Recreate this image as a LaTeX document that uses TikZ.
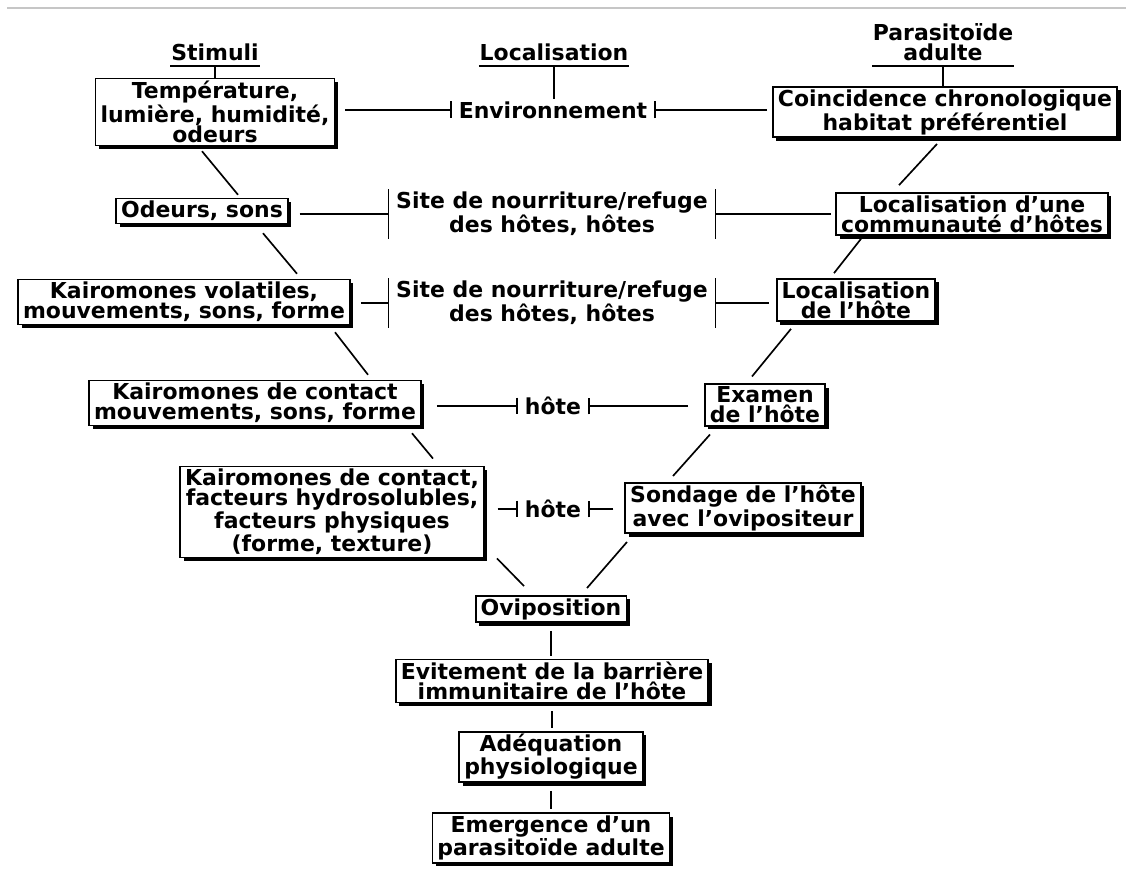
\documentclass[tikz,border=0pt]{standalone}
\usepackage{fontspec}
\setmainfont{DejaVu Sans}
\usetikzlibrary{arrows.meta,calc,shadows}

\begin{document}
\begin{tikzpicture}
  [x=0.02cm,y=-0.02cm,line width=0.95pt,
   every node/.style={font=\bfseries\fontsize{12.5}{11.4}\selectfont,align=center},
   box/.style={draw,fill=white,inner xsep=0.1cm,inner ysep=0.05cm,
     drop shadow={fill=black,opacity=1,shadow xshift=0.07cm,shadow yshift=-0.07cm}},
   hdr/.style={inner xsep=0pt,inner ysep=0.08cm,anchor=south},
   mid/.style={inner xsep=0.12cm,inner ysep=1pt},
   sbar/.style={-{Bar[width=0.34cm]}},
   lbar/.style={-{Bar[width=1cm]}}]

  \useasboundingbox (0,0) rectangle (1126,871);
  \draw[gray!45,line width=1.2pt] (7,8) -- (1126,8);

  % headers
  \node[hdr] (stim) at (215,66) {Stimuli};
  \node[hdr] (loc) at (554,66) {Localisation};
  \node[hdr] (para) at (943,66) {Parasitoïde\\adulte};
  \draw (stim.south west) -- (stim.south east);
  \draw (loc.south west) -- (loc.south east);
  \draw (para.south west) -- (para.south east);

  % stimuli
  \node[box] (t1) at (215,112) {Température,\\lumière, humidité,\\odeurs};
  \node[box] (t2) at (202,211) {Odeurs, sons};
  \node[box] (t3) at (184,302) {Kairomones volatiles,\\mouvements, sons, forme};
  \node[box] (t4) at (255,403) {Kairomones de contact\\mouvements, sons, forme};
  \node[box] (t5) at (332,512) {Kairomones de contact,\\facteurs hydrosolubles,\\facteurs physiques\\(forme, texture)};

  % parasitoide
  \node[box] (c1) at (945,112) {Coincidence chronologique\\habitat préférentiel};
  \node[box] (c2) at (972,214) {Localisation d'une\\communauté d'hôtes};
  \node[box] (c3) at (856,300) {Localisation\\de l'hôte};
  \node[box] (c4) at (765,405) {Examen\\de l'hôte};
  \node[box] (c5) at (743,508) {Sondage de l'hôte\\avec l'ovipositeur};

  % localisation
  \node[mid] (env) at (553,110) {Environnement};
  \node[mid] (site1) at (552,214) {Site de nourriture/refuge\\des hôtes, hôtes};
  \node[mid] (site2) at (552,303) {Site de nourriture/refuge\\des hôtes, hôtes};
  \node[mid] (hote1) at (553,406) {hôte};
  \node[mid] (hote2) at (553,509) {hôte};

  % suite
  \node[box] (ovi) at (551,609) {Oviposition};
  \node[box] (evi) at (552,681) {Evitement de la barrière\\immunitaire de l'hôte};
  \node[box] (ade) at (551,757) {Adéquation\\physiologique};
  \node[box] (eme) at (551,838) {Emergence d'un\\parasitoïde adulte};

  \draw (stim.south) -- (stim.south |- t1.north);
  \draw (para.south) -- (para.south |- c1.north);
  \draw (loc.south) -- (loc.south |- env.north);

  \draw[sbar,shorten <=0.2cm] (env.west -| t1.east) -- (env.west);
  \draw[sbar,shorten <=0.1cm] (env.east -| c1.west) -- (env.east);
  \draw[lbar,shorten <=0.22cm] (site1.west -| t2.east) -- (site1.west);
  \draw[lbar,shorten <=0.08cm] (site1.east -| c2.west) -- (site1.east);
  \draw[lbar,shorten <=0.2cm] (site2.west -| t3.east) -- (site2.west);
  \draw[lbar,shorten <=0.14cm] (site2.east -| c3.west) -- (site2.east);
  \draw[sbar,shorten <=0.3cm] (hote1.west -| t4.east) -- (hote1.west);
  \draw[sbar,shorten <=0.32cm] (hote1.east -| c4.west) -- (hote1.east);
  \draw[sbar,shorten <=0.26cm] (hote2.west -| t5.east) -- (hote2.west);
  \draw[sbar,shorten <=0.22cm] (hote2.east -| c5.west) -- (hote2.east);

  \foreach \a/\ax/\ay/\b/\bx/\by in {t1.south/-13/5/t2.north/36/-3,
      t2.south/61/9/t3.north/113/-5, t3.south/151/7/t4.north/113/-5,
      t4.south/157/7/t5.north/101/-7, t5.south/165/0/ovi.north/-27/-9,
      c1.south/-8/6/c2.north/-73/-7, c2.south/-111/3/c3.north/-22/-5,
      c3.south/-65/7/c4.north/-13/-7, c4.south/-55/8/c5.north/-70/-6,
      c5.south/-116/8/ovi.north/36/-7}
    \draw ($(\a)+(\ax,\ay)$) -- ($(\b)+(\bx,\by)$);

  \foreach \from/\to in {ovi/evi,evi/ade,ade/eme}
    \draw[shorten <=0.16cm,shorten >=0.06cm] (\from.south) -- (\from.south |- \to.north);

\end{tikzpicture}
\end{document}
